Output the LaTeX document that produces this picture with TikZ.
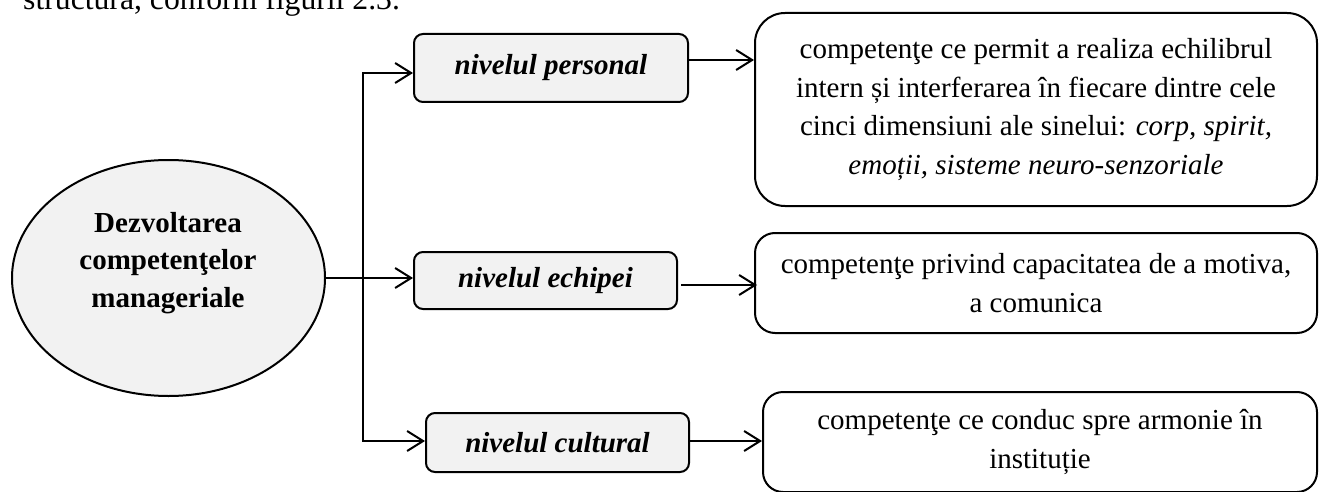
\documentclass[tikz,border=0pt]{standalone}
\usepackage{fontspec}
\setmainfont{Liberation Serif}
\usetikzlibrary{arrows.meta,shapes.geometric}
\definecolor{panelgray}{HTML}{F2F2F2}
\tikzset{
  barb/.tip={Straight Barb[length=16pt,width=20pt]},
  stroke/.style={line width=2pt},
  levelbox/.style={draw, stroke, fill=panelgray, rounded corners=9pt, inner sep=0pt,
    font=\fontsize{29}{38.5}\selectfont\bfseries\itshape},
  notebox/.style={draw, stroke, fill=white, rounded corners=20pt, inner sep=0pt,
    align=center, font=\fontsize{29}{38.5}\selectfont},
  link/.style={stroke, line join=miter, -{barb}},
}
\begin{document}
\begin{tikzpicture}[x=1pt,y=-1pt]
  \useasboundingbox (0,0) rectangle (1319,492);
  \clip (0,0) rectangle (1319,492);

  % running text line above the figure
  \node[anchor=base west, inner sep=0pt, font=\fontsize{31.7}{38}\selectfont] (lead) at (23,10)
    {structura, conform figurii 2.3.};

  % central ellipse
  \node[ellipse, draw, stroke, fill=panelgray, minimum width=313pt, minimum height=236pt,
        inner sep=0pt] (core) at (168.5,278) {};
  \node[align=center, inner sep=0pt, font=\fontsize{29}{37.5}\selectfont\bfseries] (coretext)
    at (168,262.7) {Dezvoltarea\\competenţelor\\manageriale};

  % levels
  \node[levelbox, minimum width=274pt, minimum height=68pt] (p1) at (551,68) {nivelul personal};
  \node[levelbox, minimum width=263pt, minimum height=57pt] (p2) at (545.5,280.5) {nivelul echipei};
  \node[levelbox, minimum width=263pt, minimum height=59pt] (p3) at (557.5,442.5) {nivelul cultural};

  % descriptions
  \node[notebox, rounded corners=30pt, minimum width=562pt, minimum height=193pt] (r1) at (1036,109.5)
    {competenţe ce permit a realiza echilibrul\\
     intern și interferarea în fiecare dintre cele\\
     cinci dimensiuni ale sinelui: \textit{corp, spirit,}\\
     \textit{emoții, sisteme neuro-senzoriale}};
  \node[notebox, minimum width=562pt, minimum height=100pt] (r2) at (1036,283)
    {competenţe privind capacitatea de a motiva,\\a comunica};
  \node[notebox, minimum width=554pt, minimum height=100pt] (r3) at (1040,442)
    {competenţe ce conduc spre armonie în\\instituție};

  % branching trunk
  \coordinate (jtop) at (363,73);
  \coordinate (jbot) at (363,441);
  \draw[stroke, line join=miter, {barb}-{barb}]
    (jtop -| p1.west) -- (jtop) -- (jbot) -- (jbot -| p3.west);
  \draw[link] (core.east) -- (core.east -| p2.west);

  % level to description
  \draw[link] ([yshift=8pt]p1.east) -- ([yshift=8pt]p1.east -| r1.west);
  \draw[link] ([xshift=3pt,yshift=-4.5pt]p2.east) -- ([xshift=3pt,yshift=-4.5pt]p2.east -| r2.west);
  \draw[link] ([yshift=1.5pt]p3.east) -- ([yshift=1.5pt]p3.east -| r3.west);
\end{tikzpicture}
\end{document}
